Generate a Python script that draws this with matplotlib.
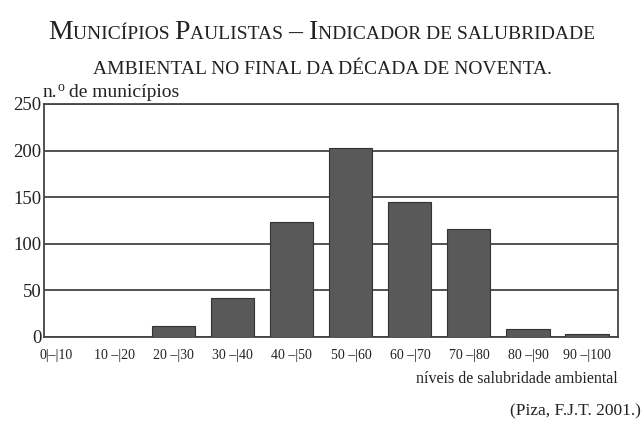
import matplotlib
matplotlib.use("Agg")
import matplotlib.pyplot as plt

# data
faixas = ["0|–|10", "10 –|20", "20 –|30", "30 –|40", "40 –|50",
          "50 –|60", "60 –|70", "70 –|80", "80 –|90", "90 –|100"]
municipios = [0, 0, 12, 42, 123, 203, 145, 116, 9, 3]
yticks = [0, 50, 100, 150, 200, 250]

plt.rcParams['font.family'] = ['Liberation Serif', 'DejaVu Serif']
txt = '#222222'

fig = plt.figure(figsize=(6.44, 4.29), dpi=100)
ax = fig.add_axes([0.0683, 0.2145, 0.8913, 0.5431])

x = list(range(len(faixas)))
ax.bar(x, municipios, width=0.73, color='#595959', edgecolor='#333333',
       linewidth=0.8, zorder=3)

ax.set_xlim(-0.2, 9.525)
ax.set_ylim(0, 250)
ax.set_yticks(yticks)
ax.set_yticklabels([str(v) for v in yticks], fontsize=13.5, color=txt)
ax.set_xticks(x)
ax.set_xticklabels(faixas, fontsize=10, color=txt)
ax.tick_params(axis='both', length=0, pad=2)
ax.tick_params(axis='x', pad=9)
ax.grid(axis='y', color='#444444', linewidth=1.3, zorder=1)
for s in ax.spines.values():
    s.set_color('#444444')
    s.set_linewidth(1.3)

fig.text(0.96, 0.116, "níveis de salubridade ambiental", fontsize=11.5,
         color=txt, ha='right', va='center')
fig.text(0.995, 0.04, "(Piza, F.J.T. 2001.)", fontsize=12.5, color=txt,
         ha='right', va='center')

fig.canvas.draw()
renderer = fig.canvas.get_renderer()
W = fig.bbox.width


def linha(pecas, y, x0=None, xc=0.5):
    # pieces: (text, fontsize, vertical offset in figure fraction)
    objs = []
    for s, fs, dy in pecas:
        objs.append(fig.text(0, y + dy, s, fontsize=fs, color=txt,
                             family='Liberation Serif',
                             ha='left', va='baseline'))
    fig.canvas.draw()
    larguras = [o.get_window_extent(renderer).width / W for o in objs]
    if x0 is None:
        x0 = xc - sum(larguras) / 2
    for o, w in zip(objs, larguras):
        o.set_x(x0)
        x0 += w


# small-caps title built from pieces
L, S = 20, 14
linha([("M", L, 0), ("UNICÍPIOS ", S, 0), ("P", L, 0), ("AULISTAS ", S, 0),
       ("– I", L, 0), ("NDICADOR DE SALUBRIDADE", S, 0)], 0.908)
linha([("AMBIENTAL NO FINAL DA DÉCADA DE NOVENTA.", S, 0)], 0.827)

# y axis title with superscript o
linha([("n.", 14, 0), ("o", 10, 0.014), (" de municípios", 14, 0)], 0.774,
      x0=0.066)

fig.savefig("out.png", dpi=100)
